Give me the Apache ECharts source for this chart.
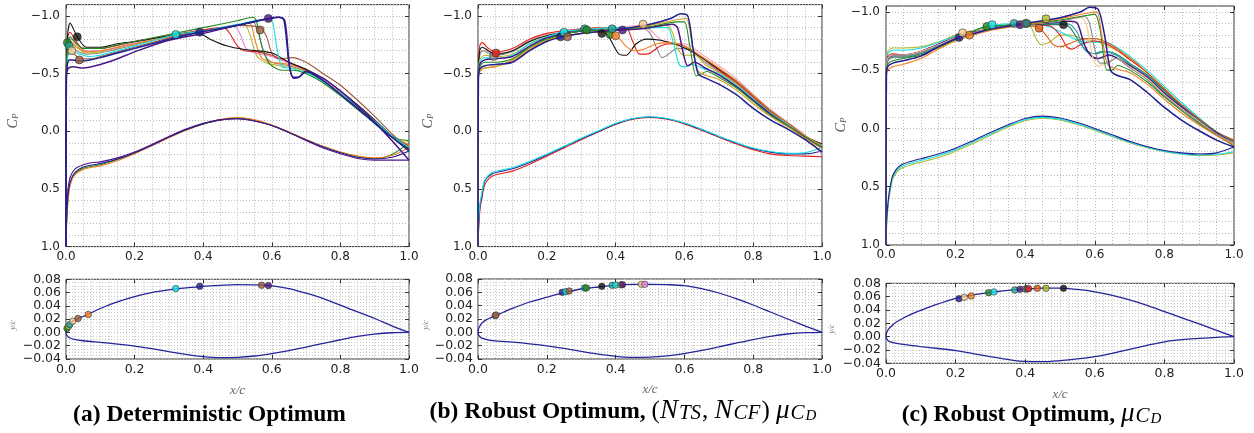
<!DOCTYPE html>
<html><head><meta charset="utf-8">
<script src="https://cdn.jsdelivr.net/npm/echarts@6.0.0/dist/echarts.min.js"></script>
<style>html,body{margin:0;padding:0;background:#fff}#c{width:1254px;height:433px}</style>
</head><body><div id="c"></div>
<script>
// ---------- tick labels ----------
const xTickVals = [0, 0.2, 0.4, 0.6, 0.8, 1.0];
const cpTickVals = [-1.0, -0.5, 0.0, 0.5, 1.0];
const yShapeTickVals = [-0.04, -0.02, 0.0, 0.02, 0.04, 0.06, 0.08];
const captions = ['(a) Deterministic Optimum', '(b) Robust Optimum, ', '(c) Robust Optimum, '];

// ---------- panel (a): Cp upper-surface curves [x/c, Cp] ----------
const aNavy = [[0,1.0],[0.001,-0.45],[0.004,-0.58],[0.01,-0.62],[0.02,-0.62],[0.04,-0.61],[0.07,-0.62],[0.1,-0.64],[0.15,-0.68],[0.2,-0.72],[0.3,-0.8],[0.39,-0.86],[0.5,-0.92],[0.58,-0.97],[0.62,-0.99],[0.635,-0.97],[0.65,-0.6],[0.662,-0.47],[0.678,-0.47],[0.698,-0.52],[0.75,-0.44],[0.8,-0.32],[0.85,-0.2],[0.9,-0.07],[0.95,0.05],[1.0,0.17]];
const aPurple = [[0,1.0],[0.001,-0.45],[0.005,-0.54],[0.02,-0.56],[0.05,-0.55],[0.1,-0.58],[0.15,-0.63],[0.2,-0.69],[0.3,-0.79],[0.4,-0.85],[0.5,-0.92],[0.59,-0.98],[0.62,-0.99],[0.638,-0.96],[0.652,-0.55],[0.665,-0.46],[0.68,-0.47],[0.7,-0.52],[0.75,-0.46],[0.8,-0.35],[0.85,-0.22],[0.9,-0.08],[0.95,0.08],[1.0,0.25]];
const aBlack = [[0,1.0],[0.001,-0.5],[0.005,-0.85],[0.012,-0.94],[0.02,-0.9],[0.033,-0.82],[0.06,-0.73],[0.1,-0.73],[0.15,-0.76],[0.2,-0.78],[0.3,-0.83],[0.38,-0.86],[0.42,-0.8],[0.47,-0.74],[0.52,-0.71],[0.6,-0.68],[0.65,-0.6],[0.7,-0.54],[0.75,-0.46],[0.8,-0.35],[0.85,-0.23],[0.9,-0.1],[0.95,0.04],[1.0,0.15]];
const aGreen = [[0,1.0],[0.001,-0.5],[0.005,-0.76],[0.012,-0.82],[0.025,-0.78],[0.05,-0.72],[0.1,-0.72],[0.15,-0.75],[0.2,-0.78],[0.3,-0.84],[0.4,-0.9],[0.5,-0.96],[0.545,-0.99],[0.555,-0.96],[0.57,-0.75],[0.59,-0.6],[0.61,-0.55],[0.63,-0.53],[0.66,-0.53],[0.7,-0.5],[0.75,-0.42],[0.8,-0.31],[0.85,-0.19],[0.9,-0.07],[0.95,0.05],[1.0,0.08]];
const aRed = [[0,1.0],[0.001,-0.5],[0.005,-0.82],[0.012,-0.86],[0.025,-0.8],[0.05,-0.72],[0.1,-0.72],[0.2,-0.78],[0.3,-0.83],[0.4,-0.88],[0.46,-0.9],[0.475,-0.86],[0.5,-0.74],[0.52,-0.7],[0.56,-0.69],[0.6,-0.66],[0.65,-0.6],[0.7,-0.53],[0.75,-0.44],[0.8,-0.33],[0.85,-0.21],[0.9,-0.09],[0.95,0.04],[1.0,0.13]];
const aCyan = [[0,1.0],[0.001,-0.45],[0.005,-0.66],[0.015,-0.7],[0.03,-0.68],[0.07,-0.65],[0.1,-0.66],[0.2,-0.74],[0.32,-0.84],[0.4,-0.87],[0.5,-0.93],[0.58,-0.97],[0.6,-0.96],[0.615,-0.72],[0.63,-0.56],[0.65,-0.55],[0.7,-0.51],[0.75,-0.43],[0.8,-0.33],[0.85,-0.21],[0.9,-0.09],[0.95,0.04],[1.0,0.14]];
const aOrange = [[0,1.0],[0.001,-0.5],[0.005,-0.74],[0.015,-0.78],[0.03,-0.74],[0.06,-0.69],[0.1,-0.7],[0.2,-0.76],[0.3,-0.82],[0.4,-0.87],[0.5,-0.92],[0.535,-0.94],[0.55,-0.8],[0.57,-0.64],[0.6,-0.6],[0.65,-0.58],[0.7,-0.53],[0.75,-0.44],[0.8,-0.33],[0.85,-0.21],[0.9,-0.09],[0.95,0.04],[1.0,0.12]];
const aBrown = [[0,1.0],[0.001,-0.48],[0.005,-0.66],[0.02,-0.68],[0.04,-0.63],[0.07,-0.63],[0.1,-0.65],[0.2,-0.73],[0.3,-0.81],[0.4,-0.87],[0.5,-0.92],[0.566,-0.9],[0.585,-0.82],[0.6,-0.68],[0.62,-0.63],[0.66,-0.64],[0.7,-0.6],[0.75,-0.5],[0.8,-0.4],[0.85,-0.27],[0.9,-0.13],[0.95,0.02],[1.0,0.16]];
const aPink = [[0,1.0],[0.001,-0.5],[0.005,-0.76],[0.015,-0.8],[0.03,-0.76],[0.06,-0.7],[0.1,-0.7],[0.2,-0.77],[0.3,-0.83],[0.4,-0.88],[0.49,-0.91],[0.505,-0.86],[0.525,-0.72],[0.55,-0.68],[0.6,-0.65],[0.65,-0.59],[0.7,-0.53],[0.75,-0.44],[0.8,-0.33],[0.85,-0.21],[0.9,-0.09],[0.95,0.04],[1.0,0.12]];
const aOlive = [[0,1.0],[0.001,-0.5],[0.005,-0.72],[0.015,-0.76],[0.03,-0.73],[0.06,-0.68],[0.1,-0.69],[0.2,-0.76],[0.3,-0.82],[0.4,-0.88],[0.5,-0.92],[0.52,-0.93],[0.535,-0.85],[0.555,-0.66],[0.58,-0.6],[0.62,-0.57],[0.66,-0.55],[0.7,-0.52],[0.75,-0.43],[0.8,-0.32],[0.85,-0.2],[0.9,-0.08],[0.95,0.05],[1.0,0.09]];
const aGray = [[0,1.0],[0.001,-0.5],[0.005,-0.7],[0.015,-0.74],[0.03,-0.7],[0.06,-0.67],[0.1,-0.68],[0.2,-0.75],[0.3,-0.82],[0.4,-0.87],[0.5,-0.92],[0.545,-0.95],[0.56,-0.86],[0.58,-0.66],[0.6,-0.6],[0.65,-0.57],[0.7,-0.52],[0.75,-0.43],[0.8,-0.32],[0.85,-0.2],[0.9,-0.08],[0.95,0.04],[1.0,0.12]];
// panel (a): Cp lower-surface curves
const aLowMain = [[0,1.0],[0.002,0.75],[0.006,0.55],[0.012,0.44],[0.025,0.36],[0.05,0.31],[0.08,0.29],[0.1,0.28],[0.15,0.24],[0.2,0.185],[0.25,0.12],[0.3,0.05],[0.35,-0.015],[0.4,-0.065],[0.45,-0.1],[0.5,-0.11],[0.55,-0.09],[0.6,-0.05],[0.65,0.01],[0.7,0.075],[0.75,0.135],[0.8,0.185],[0.85,0.225],[0.9,0.24],[0.95,0.225],[1.0,0.17]];
const aLowPurple = [[0,1.0],[0.002,0.7],[0.006,0.5],[0.012,0.4],[0.025,0.33],[0.05,0.29],[0.08,0.27],[0.1,0.265],[0.15,0.23],[0.2,0.18],[0.25,0.115],[0.3,0.045],[0.35,-0.02],[0.4,-0.07],[0.45,-0.1],[0.5,-0.11],[0.55,-0.09],[0.6,-0.05],[0.65,0.01],[0.7,0.08],[0.75,0.145],[0.8,0.195],[0.85,0.235],[0.9,0.25],[0.95,0.25],[1.0,0.25]];
const aLowOrange = [[0,1.0],[0.002,0.8],[0.006,0.6],[0.012,0.47],[0.025,0.38],[0.05,0.33],[0.08,0.31],[0.1,0.3],[0.15,0.255],[0.2,0.195],[0.25,0.125],[0.3,0.055],[0.35,-0.01],[0.4,-0.065],[0.45,-0.105],[0.5,-0.12],[0.55,-0.1],[0.6,-0.055],[0.65,0.005],[0.7,0.07],[0.75,0.13],[0.8,0.18],[0.85,0.215],[0.9,0.23],[0.95,0.21],[1.0,0.14]];
const aLowGreen = [[0,1.0],[0.002,0.78],[0.006,0.58],[0.012,0.46],[0.025,0.37],[0.05,0.32],[0.08,0.3],[0.1,0.29],[0.15,0.245],[0.2,0.19],[0.25,0.122],[0.3,0.052],[0.35,-0.012],[0.4,-0.064],[0.45,-0.1],[0.5,-0.115],[0.55,-0.095],[0.6,-0.052],[0.65,0.008],[0.7,0.072],[0.75,0.132],[0.8,0.182],[0.85,0.22],[0.9,0.235],[0.95,0.2],[1.0,0.1]];
// panel (a): transition markers
const aMarkCpX = [0.004, 0.009, 0.017, 0.033, 0.039, 0.32, 0.39, 0.566, 0.59];
const aMarkCpY = [-0.77, -0.74, -0.7, -0.82, -0.62, -0.84, -0.86, -0.88, -0.98];
const aMarkShX = [0.003, 0.007, 0.011, 0.02, 0.035, 0.065, 0.32, 0.39, 0.57, 0.59];
const aMarkShY = [0.006, 0.009, 0.012, 0.017, 0.021, 0.027, 0.066, 0.0695, 0.071, 0.0705];
// panel (a): airfoil shape [x/c, y/c]
const aShapeUpper = [[0,0.001],[0.002,0.006],[0.005,0.009],[0.01,0.013],[0.02,0.017],[0.035,0.021],[0.05,0.024],[0.075,0.03],[0.1,0.036],[0.15,0.046],[0.2,0.054],[0.25,0.06],[0.3,0.064],[0.35,0.067],[0.4,0.0695],[0.45,0.071],[0.5,0.072],[0.55,0.0715],[0.6,0.07],[0.65,0.066],[0.7,0.059],[0.75,0.051],[0.8,0.041],[0.85,0.031],[0.9,0.021],[0.95,0.01],[1.0,0.0]];
const aShapeLower = [[0,0.001],[0.001,-0.003],[0.005,-0.006],[0.01,-0.008],[0.025,-0.0105],[0.05,-0.0125],[0.1,-0.015],[0.15,-0.0175],[0.2,-0.0205],[0.25,-0.0245],[0.3,-0.029],[0.35,-0.033],[0.4,-0.0365],[0.45,-0.038],[0.5,-0.0375],[0.55,-0.0355],[0.6,-0.032],[0.65,-0.0275],[0.7,-0.022],[0.75,-0.0165],[0.8,-0.011],[0.85,-0.006],[0.9,-0.0025],[0.95,-0.0005],[1.0,0.0]];

// ---------- panel (b) ----------
const bNavy = [[0,1.0],[0.001,-0.45],[0.005,-0.54],[0.02,-0.57],[0.05,-0.58],[0.1,-0.6],[0.15,-0.7],[0.2,-0.78],[0.245,-0.82],[0.3,-0.85],[0.4,-0.88],[0.5,-0.93],[0.56,-0.98],[0.59,-1.02],[0.61,-1.0],[0.625,-0.72],[0.64,-0.5],[0.655,-0.47],[0.7,-0.41],[0.75,-0.32],[0.8,-0.2],[0.85,-0.1],[0.9,-0.02],[0.95,0.07],[1.0,0.18]];
const bGold = [[0,1.0],[0.001,-0.45],[0.005,-0.52],[0.02,-0.55],[0.05,-0.56],[0.1,-0.61],[0.15,-0.71],[0.2,-0.79],[0.3,-0.85],[0.4,-0.88],[0.5,-0.92],[0.58,-0.97],[0.605,-0.98],[0.62,-0.8],[0.635,-0.55],[0.65,-0.5],[0.7,-0.45],[0.75,-0.36],[0.8,-0.24],[0.85,-0.13],[0.9,-0.04],[0.95,0.06],[1.0,0.15]];
const bGreen = [[0,1.0],[0.001,-0.45],[0.005,-0.56],[0.02,-0.6],[0.05,-0.6],[0.1,-0.63],[0.15,-0.73],[0.2,-0.8],[0.3,-0.87],[0.4,-0.88],[0.5,-0.91],[0.58,-0.95],[0.6,-0.95],[0.615,-0.75],[0.635,-0.48],[0.65,-0.5],[0.665,-0.52],[0.7,-0.47],[0.75,-0.38],[0.8,-0.26],[0.85,-0.14],[0.9,-0.05],[0.95,0.05],[1.0,0.14]];
const bPurple = [[0,1.0],[0.001,-0.45],[0.005,-0.58],[0.02,-0.62],[0.05,-0.63],[0.1,-0.65],[0.15,-0.74],[0.2,-0.81],[0.3,-0.87],[0.42,-0.88],[0.5,-0.9],[0.565,-0.93],[0.58,-0.9],[0.595,-0.7],[0.61,-0.57],[0.63,-0.6],[0.66,-0.55],[0.7,-0.49],[0.75,-0.39],[0.8,-0.27],[0.85,-0.15],[0.9,-0.05],[0.95,0.05],[1.0,0.14]];
const bCyan = [[0,1.0],[0.001,-0.45],[0.005,-0.6],[0.02,-0.64],[0.05,-0.63],[0.1,-0.66],[0.15,-0.76],[0.2,-0.82],[0.255,-0.87],[0.3,-0.88],[0.4,-0.9],[0.5,-0.9],[0.55,-0.9],[0.565,-0.8],[0.585,-0.58],[0.6,-0.56],[0.62,-0.58],[0.66,-0.54],[0.7,-0.5],[0.75,-0.4],[0.8,-0.28],[0.85,-0.16],[0.9,-0.06],[0.95,0.05],[1.0,0.13]];
const bOlive = [[0,1.0],[0.001,-0.45],[0.005,-0.62],[0.02,-0.66],[0.05,-0.65],[0.1,-0.67],[0.15,-0.76],[0.2,-0.82],[0.3,-0.87],[0.4,-0.88],[0.5,-0.9],[0.55,-0.92],[0.565,-0.86],[0.58,-0.72],[0.6,-0.66],[0.63,-0.66],[0.66,-0.58],[0.7,-0.51],[0.75,-0.41],[0.8,-0.28],[0.85,-0.16],[0.9,-0.06],[0.95,0.04],[1.0,0.13]];
const bGray = [[0,1.0],[0.001,-0.45],[0.005,-0.66],[0.015,-0.7],[0.03,-0.68],[0.05,-0.66],[0.1,-0.69],[0.15,-0.78],[0.2,-0.83],[0.3,-0.88],[0.4,-0.89],[0.48,-0.89],[0.5,-0.85],[0.52,-0.72],[0.535,-0.64],[0.55,-0.66],[0.58,-0.72],[0.62,-0.7],[0.66,-0.6],[0.7,-0.52],[0.75,-0.42],[0.8,-0.29],[0.85,-0.17],[0.9,-0.07],[0.95,0.04],[1.0,0.13]];
const bRed = [[0,1.0],[0.001,-0.5],[0.005,-0.74],[0.012,-0.77],[0.03,-0.72],[0.052,-0.69],[0.1,-0.72],[0.15,-0.8],[0.2,-0.85],[0.3,-0.89],[0.4,-0.9],[0.43,-0.9],[0.45,-0.78],[0.47,-0.67],[0.49,-0.67],[0.53,-0.74],[0.56,-0.76],[0.6,-0.74],[0.65,-0.64],[0.7,-0.53],[0.75,-0.43],[0.8,-0.3],[0.85,-0.17],[0.9,-0.07],[0.95,0.04],[1.0,0.12]];
const bBlack = [[0,1.0],[0.001,-0.5],[0.005,-0.7],[0.012,-0.73],[0.03,-0.7],[0.05,-0.67],[0.1,-0.7],[0.15,-0.78],[0.2,-0.83],[0.3,-0.88],[0.36,-0.87],[0.38,-0.82],[0.41,-0.67],[0.43,-0.66],[0.46,-0.76],[0.49,-0.8],[0.53,-0.79],[0.58,-0.75],[0.63,-0.68],[0.7,-0.54],[0.75,-0.44],[0.8,-0.31],[0.85,-0.18],[0.9,-0.07],[0.95,0.04],[1.0,0.11]];
const bOrange = [[0,1.0],[0.001,-0.45],[0.005,-0.52],[0.02,-0.55],[0.05,-0.56],[0.1,-0.62],[0.15,-0.72],[0.2,-0.79],[0.3,-0.85],[0.38,-0.86],[0.4,-0.84],[0.43,-0.74],[0.455,-0.7],[0.48,-0.71],[0.52,-0.76],[0.56,-0.77],[0.6,-0.74],[0.65,-0.65],[0.7,-0.55],[0.75,-0.44],[0.8,-0.31],[0.85,-0.18],[0.9,-0.07],[0.95,0.04],[1.0,0.12]];
const bPink = [[0,1.0],[0.001,-0.5],[0.005,-0.68],[0.02,-0.7],[0.05,-0.68],[0.1,-0.7],[0.15,-0.79],[0.2,-0.84],[0.3,-0.88],[0.4,-0.9],[0.48,-0.92],[0.5,-0.88],[0.53,-0.8],[0.56,-0.76],[0.6,-0.76],[0.65,-0.67],[0.7,-0.57],[0.75,-0.46],[0.8,-0.32],[0.85,-0.19],[0.9,-0.08],[0.95,0.03],[1.0,0.2]];
const bLowMain = [[0,1.0],[0.002,0.8],[0.006,0.64],[0.011,0.56],[0.02,0.43],[0.04,0.37],[0.07,0.345],[0.1,0.325],[0.15,0.27],[0.2,0.205],[0.25,0.135],[0.3,0.065],[0.35,0.0],[0.4,-0.065],[0.45,-0.11],[0.5,-0.125],[0.55,-0.11],[0.6,-0.07],[0.65,-0.015],[0.7,0.045],[0.75,0.1],[0.8,0.15],[0.85,0.18],[0.9,0.195],[0.95,0.195],[1.0,0.17]];
const bLowRed = [[0,1.0],[0.002,0.84],[0.006,0.67],[0.011,0.59],[0.02,0.46],[0.04,0.39],[0.07,0.365],[0.1,0.345],[0.15,0.285],[0.2,0.215],[0.25,0.145],[0.3,0.072],[0.35,0.005],[0.4,-0.06],[0.45,-0.105],[0.5,-0.12],[0.55,-0.105],[0.6,-0.065],[0.65,-0.01],[0.7,0.05],[0.75,0.108],[0.8,0.16],[0.85,0.195],[0.9,0.21],[0.95,0.215],[1.0,0.22]];
const bLowCyan = [[0,1.0],[0.002,0.78],[0.006,0.62],[0.011,0.54],[0.02,0.42],[0.04,0.36],[0.07,0.335],[0.1,0.315],[0.15,0.262],[0.2,0.198],[0.25,0.13],[0.3,0.06],[0.35,-0.005],[0.4,-0.068],[0.45,-0.112],[0.5,-0.127],[0.55,-0.112],[0.6,-0.072],[0.65,-0.018],[0.7,0.042],[0.75,0.097],[0.8,0.145],[0.85,0.175],[0.9,0.19],[0.95,0.185],[1.0,0.14]];
const bMarkCpX = [0.045, 0.052, 0.24, 0.25, 0.26, 0.31, 0.316, 0.36, 0.384, 0.39, 0.40, 0.42, 0.48];
const bMarkCpY = [-0.65, -0.68, -0.82, -0.86, -0.82, -0.89, -0.88, -0.85, -0.84, -0.89, -0.83, -0.88, -0.93];
const bMarkShX = [0.05, 0.052, 0.245, 0.255, 0.265, 0.31, 0.315, 0.36, 0.39, 0.40, 0.415, 0.42, 0.475, 0.485];
const bMarkShY = [0.025, 0.026, 0.06, 0.061, 0.062, 0.0665, 0.0665, 0.069, 0.0705, 0.071, 0.0712, 0.0715, 0.072, 0.072];
const bShapeUpper = [[0,0.001],[0.002,0.006],[0.005,0.009],[0.01,0.013],[0.02,0.0175],[0.035,0.0215],[0.05,0.0246],[0.075,0.0305],[0.1,0.036],[0.15,0.0455],[0.2,0.0527],[0.25,0.0595],[0.3,0.065],[0.35,0.068],[0.4,0.0705],[0.45,0.0718],[0.5,0.072],[0.55,0.0715],[0.6,0.07],[0.65,0.0655],[0.7,0.059],[0.75,0.0505],[0.8,0.041],[0.85,0.0305],[0.9,0.02],[0.95,0.0098],[1.0,0.0]];
const bShapeLower = [[0,0.001],[0.001,-0.003],[0.005,-0.0062],[0.01,-0.0082],[0.025,-0.0108],[0.05,-0.0128],[0.1,-0.0148],[0.15,-0.0172],[0.2,-0.0202],[0.25,-0.0242],[0.3,-0.0287],[0.35,-0.0328],[0.4,-0.036],[0.45,-0.0375],[0.5,-0.0372],[0.55,-0.0352],[0.6,-0.0318],[0.65,-0.0272],[0.7,-0.0218],[0.75,-0.0162],[0.8,-0.0108],[0.85,-0.006],[0.9,-0.0025],[0.95,-0.0005],[1.0,0.0]];

// ---------- panel (c) ----------
const cNavy = [[0,1.0],[0.001,-0.45],[0.005,-0.53],[0.02,-0.56],[0.05,-0.58],[0.1,-0.62],[0.15,-0.7],[0.21,-0.78],[0.25,-0.81],[0.3,-0.85],[0.4,-0.9],[0.5,-0.95],[0.56,-1.0],[0.585,-1.04],[0.61,-1.02],[0.628,-0.8],[0.645,-0.5],[0.66,-0.46],[0.7,-0.42],[0.75,-0.31],[0.8,-0.18],[0.85,-0.07],[0.9,0.02],[0.95,0.1],[1.0,0.16]];
const cOrange = [[0,1.0],[0.001,-0.45],[0.005,-0.5],[0.02,-0.53],[0.05,-0.55],[0.1,-0.6],[0.15,-0.68],[0.2,-0.75],[0.3,-0.84],[0.4,-0.89],[0.5,-0.94],[0.58,-0.99],[0.605,-1.0],[0.62,-0.8],[0.635,-0.56],[0.65,-0.52],[0.7,-0.48],[0.75,-0.38],[0.8,-0.25],[0.85,-0.13],[0.9,-0.03],[0.95,0.06],[1.0,0.14]];
const cGreen = [[0,1.0],[0.001,-0.45],[0.005,-0.55],[0.02,-0.58],[0.05,-0.6],[0.1,-0.63],[0.2,-0.76],[0.29,-0.875],[0.4,-0.89],[0.5,-0.93],[0.58,-0.97],[0.6,-0.98],[0.615,-0.85],[0.635,-0.5],[0.65,-0.5],[0.665,-0.54],[0.7,-0.5],[0.75,-0.4],[0.8,-0.27],[0.85,-0.15],[0.9,-0.04],[0.95,0.06],[1.0,0.15]];
const cGray = [[0,1.0],[0.001,-0.45],[0.005,-0.58],[0.02,-0.61],[0.05,-0.62],[0.1,-0.65],[0.2,-0.77],[0.3,-0.86],[0.4,-0.9],[0.5,-0.92],[0.57,-0.96],[0.585,-0.9],[0.6,-0.68],[0.615,-0.56],[0.635,-0.56],[0.66,-0.6],[0.7,-0.52],[0.75,-0.42],[0.8,-0.28],[0.85,-0.16],[0.9,-0.05],[0.95,0.05],[1.0,0.14]];
const cTan = [[0,1.0],[0.001,-0.45],[0.005,-0.6],[0.02,-0.63],[0.05,-0.63],[0.1,-0.66],[0.2,-0.78],[0.22,-0.82],[0.3,-0.86],[0.4,-0.89],[0.5,-0.92],[0.56,-0.95],[0.575,-0.9],[0.595,-0.6],[0.61,-0.53],[0.63,-0.56],[0.66,-0.6],[0.7,-0.53],[0.75,-0.43],[0.8,-0.29],[0.85,-0.17],[0.9,-0.06],[0.95,0.05],[1.0,0.13]];
const cPurple = [[0,1.0],[0.001,-0.45],[0.005,-0.6],[0.02,-0.63],[0.05,-0.63],[0.1,-0.66],[0.2,-0.78],[0.3,-0.86],[0.385,-0.89],[0.45,-0.9],[0.53,-0.92],[0.55,-0.9],[0.57,-0.72],[0.59,-0.62],[0.61,-0.6],[0.64,-0.63],[0.66,-0.61],[0.7,-0.54],[0.75,-0.44],[0.8,-0.3],[0.85,-0.18],[0.9,-0.06],[0.95,0.04],[1.0,0.13]];
const cTeal = [[0,1.0],[0.001,-0.45],[0.005,-0.59],[0.02,-0.62],[0.05,-0.62],[0.1,-0.65],[0.2,-0.77],[0.3,-0.86],[0.4,-0.9],[0.5,-0.9],[0.53,-0.89],[0.55,-0.82],[0.57,-0.68],[0.59,-0.64],[0.62,-0.66],[0.66,-0.63],[0.7,-0.55],[0.75,-0.45],[0.8,-0.31],[0.85,-0.18],[0.9,-0.06],[0.95,0.04],[1.0,0.12]];
const cBlack = [[0,1.0],[0.001,-0.45],[0.005,-0.58],[0.02,-0.61],[0.05,-0.61],[0.1,-0.64],[0.2,-0.77],[0.3,-0.86],[0.4,-0.89],[0.51,-0.89],[0.53,-0.86],[0.56,-0.72],[0.58,-0.66],[0.6,-0.64],[0.63,-0.66],[0.66,-0.64],[0.7,-0.56],[0.75,-0.46],[0.8,-0.32],[0.85,-0.19],[0.9,-0.07],[0.95,0.03],[1.0,0.12]];
const cRed = [[0,1.0],[0.001,-0.45],[0.005,-0.62],[0.02,-0.64],[0.05,-0.63],[0.1,-0.66],[0.2,-0.78],[0.3,-0.86],[0.4,-0.89],[0.47,-0.88],[0.5,-0.8],[0.52,-0.7],[0.535,-0.68],[0.56,-0.72],[0.6,-0.75],[0.63,-0.73],[0.66,-0.68],[0.7,-0.59],[0.75,-0.48],[0.8,-0.33],[0.85,-0.2],[0.9,-0.08],[0.95,0.03],[1.0,0.11]];
const cOrange2 = [[0,1.0],[0.001,-0.45],[0.005,-0.6],[0.02,-0.62],[0.05,-0.62],[0.1,-0.65],[0.2,-0.77],[0.3,-0.86],[0.4,-0.88],[0.44,-0.86],[0.46,-0.8],[0.48,-0.72],[0.5,-0.7],[0.53,-0.73],[0.57,-0.77],[0.6,-0.77],[0.64,-0.73],[0.68,-0.65],[0.72,-0.56],[0.76,-0.45],[0.8,-0.34],[0.85,-0.2],[0.9,-0.08],[0.95,0.03],[1.0,0.1]];
const cOlive = [[0,1.0],[0.001,-0.5],[0.005,-0.66],[0.02,-0.69],[0.05,-0.69],[0.1,-0.7],[0.15,-0.74],[0.2,-0.8],[0.3,-0.87],[0.4,-0.9],[0.415,-0.88],[0.43,-0.78],[0.445,-0.72],[0.47,-0.74],[0.5,-0.8],[0.53,-0.8],[0.57,-0.76],[0.6,-0.75],[0.65,-0.69],[0.7,-0.6],[0.75,-0.48],[0.8,-0.34],[0.85,-0.2],[0.9,-0.08],[0.95,0.03],[1.0,0.11]];
const cCyan = [[0,1.0],[0.001,-0.5],[0.005,-0.64],[0.02,-0.67],[0.05,-0.67],[0.1,-0.69],[0.2,-0.79],[0.3,-0.88],[0.4,-0.9],[0.46,-0.88],[0.5,-0.83],[0.54,-0.77],[0.57,-0.74],[0.6,-0.74],[0.63,-0.74],[0.66,-0.7],[0.7,-0.62],[0.75,-0.5],[0.8,-0.36],[0.85,-0.22],[0.9,-0.09],[0.95,0.03],[1.0,0.1]];
const cLowMain = [[0,1.0],[0.002,0.78],[0.007,0.6],[0.012,0.5],[0.02,0.4],[0.04,0.32],[0.08,0.275],[0.1,0.26],[0.15,0.22],[0.2,0.17],[0.25,0.105],[0.3,0.035],[0.35,-0.03],[0.4,-0.085],[0.45,-0.105],[0.5,-0.09],[0.55,-0.05],[0.6,0.0],[0.65,0.055],[0.7,0.11],[0.75,0.155],[0.8,0.19],[0.85,0.21],[0.9,0.22],[0.95,0.21],[1.0,0.16]];
const cLowCyan = [[0,1.0],[0.002,0.8],[0.007,0.62],[0.012,0.52],[0.02,0.415],[0.04,0.335],[0.08,0.29],[0.1,0.275],[0.15,0.235],[0.2,0.182],[0.25,0.117],[0.3,0.047],[0.35,-0.02],[0.4,-0.075],[0.45,-0.095],[0.5,-0.08],[0.55,-0.04],[0.6,0.01],[0.65,0.065],[0.7,0.118],[0.75,0.162],[0.8,0.197],[0.85,0.218],[0.9,0.228],[0.95,0.222],[1.0,0.2]];
const cLowOlive = [[0,1.0],[0.002,0.82],[0.007,0.64],[0.012,0.54],[0.02,0.43],[0.04,0.35],[0.08,0.305],[0.1,0.29],[0.15,0.25],[0.2,0.195],[0.25,0.13],[0.3,0.058],[0.35,-0.01],[0.4,-0.065],[0.45,-0.087],[0.5,-0.072],[0.55,-0.033],[0.6,0.017],[0.65,0.07],[0.7,0.122],[0.75,0.166],[0.8,0.2],[0.85,0.222],[0.9,0.232],[0.95,0.228],[1.0,0.21]];
const cMarkCpX = [0.21, 0.22, 0.24, 0.29, 0.305, 0.368, 0.385, 0.40, 0.405, 0.44, 0.46, 0.51];
const cMarkCpY = [-0.78, -0.82, -0.8, -0.875, -0.89, -0.9, -0.89, -0.9, -0.9, -0.86, -0.94, -0.89];
const cMarkShX = [0.21, 0.225, 0.245, 0.295, 0.31, 0.37, 0.385, 0.40, 0.405, 0.41, 0.435, 0.46, 0.51];
const cMarkShY = [0.057, 0.059, 0.061, 0.066, 0.067, 0.07, 0.071, 0.0715, 0.0715, 0.072, 0.0725, 0.0725, 0.0725];
const cShapeUpper = [[0,0.002],[0.002,0.006],[0.005,0.0095],[0.01,0.013],[0.02,0.018],[0.03,0.022],[0.05,0.028],[0.078,0.035],[0.1,0.0395],[0.15,0.049],[0.2,0.0575],[0.25,0.0625],[0.3,0.0665],[0.35,0.0695],[0.4,0.0715],[0.45,0.0728],[0.5,0.0728],[0.55,0.0708],[0.6,0.0672],[0.65,0.0618],[0.7,0.055],[0.75,0.0468],[0.8,0.0375],[0.85,0.0282],[0.9,0.019],[0.95,0.0095],[1.0,0.0]];
const cShapeLower = [[0,0.002],[0.001,-0.002],[0.005,-0.0055],[0.01,-0.0075],[0.03,-0.01],[0.06,-0.0125],[0.1,-0.015],[0.15,-0.0178],[0.2,-0.021],[0.25,-0.0255],[0.3,-0.03],[0.35,-0.0342],[0.4,-0.0372],[0.45,-0.0375],[0.5,-0.036],[0.55,-0.0335],[0.6,-0.03],[0.65,-0.025],[0.7,-0.019],[0.75,-0.0132],[0.8,-0.0077],[0.85,-0.0045],[0.9,-0.0026],[0.95,-0.001],[1.0,0.0]];

// ---------- styles ----------
const C = {navy:'#1f1f8f', purple:'#4b1687', green:'#218a21', red:'#e3211c', cyan:'#12e0e6', orange:'#f28022', brown:'#9b5c3c', pink:'#df8ad3', olive:'#b5b830', gray:'#8a8a8a', black:'#141414', tan:'#f7c98e', teal:'#1fa7a0', gold:'#d59a20', lpink:'#f2a3b3', dteal:'#2b7b70', dorange:'#e05a10'};
const GRIDC = '#b8b8b8';
const dot = {color: GRIDC, type: [1, 2], width: 1};
const dotMinor = {color: '#c8c8c8', type: [1, 2], width: 1};
const SERIF = 'Liberation Serif';
const SANS = 'DejaVu Sans';

const panels = [
  { top: {left:66, top:4.6, width:343, height:242}, ymin:-1.1, ystep:0.1, splitColors:[GRIDC],
    bot: {left:66, top:279.3, width:343, height:79.7},
    lower: [[aLowGreen,C.green],[aLowOrange,C.orange],[aLowMain,C.navy],[aLowPurple,C.purple]],
    upper: [[aGray,C.gray],[aOlive,C.olive],[aPink,C.pink],[aOrange,C.orange],[aRed,C.red],[aBrown,C.brown],[aBlack,C.black],[aCyan,C.cyan],[aGreen,C.green],[aPurple,C.purple],[aNavy,C.navy]],
    mCp: [aMarkCpX, aMarkCpY, [C.green,C.teal,C.tan,C.black,C.brown,C.cyan,C.navy,C.brown,C.purple]],
    mSh: [aMarkShX, aMarkShY, [C.green,C.olive,C.teal,C.tan,C.brown,C.orange,C.cyan,C.navy,C.brown,C.purple]],
    shape: [aShapeUpper, aShapeLower] },
  { top: {left:478, top:4.6, width:344, height:242}, ymin:-1.1, ystep:0.1, splitColors:[GRIDC],
    bot: {left:478, top:279, width:344, height:80},
    lower: [[bLowRed,C.red],[bLowMain,C.navy],[bLowCyan,C.cyan]],
    upper: [[bPink,C.lpink],[bGray,C.gray],[bRed,C.red],[bBlack,C.black],[bOrange,C.orange],[bOlive,C.olive],[bCyan,C.cyan],[bPurple,C.purple],[bGreen,C.green],[bGold,C.gold],[bNavy,C.navy]],
    mCp: [bMarkCpX, bMarkCpY, [C.gray,C.red,C.navy,C.cyan,C.brown,C.teal,C.green,C.black,C.green,C.teal,C.orange,C.purple,C.tan]],
    mSh: [bMarkShX, bMarkShY, [C.gray,C.brown,C.navy,C.cyan,C.brown,C.teal,C.green,C.black,C.teal,C.cyan,C.olive,C.purple,C.tan,C.pink]],
    shape: [bShapeUpper, bShapeLower] },
  { top: {left:886, top:6, width:348, height:239}, ymin:-1.05, ystep:0.05, splitColors:['rgba(0,0,0,0)', GRIDC],
    bot: {left:886, top:283.3, width:348, height:80},
    lower: [[cLowOlive,C.olive],[cLowCyan,C.cyan],[cLowMain,C.navy]],
    upper: [[cOlive,C.olive],[cCyan,C.cyan],[cRed,C.red],[cOrange2,C.dorange],[cBlack,C.dteal],[cTeal,C.teal],[cPurple,C.purple],[cTan,C.tan],[cGray,C.gray],[cGreen,C.green],[cOrange,C.orange],[cNavy,C.navy]],
    mCp: [cMarkCpX, cMarkCpY, [C.navy,C.tan,C.orange,C.green,C.cyan,C.teal,C.purple,C.gray,C.dteal,C.dorange,C.olive,C.black]],
    mSh: [cMarkShX, cMarkShY, [C.navy,C.tan,C.orange,C.green,C.cyan,C.teal,C.purple,C.gray,C.dteal,C.red,C.dorange,C.olive,C.black]],
    shape: [cShapeUpper, cShapeLower] }
];

const grids = [], xAxes = [], yAxes = [], series = [], graphic = [];
const fmt = (v, d) => (v < -1e-9 ? '\u2212' : '') + Math.abs(v).toFixed(d);
const tickStyle = {inside:true, length:4, lineStyle:{color:'#333', width:1}};
const noLine = {show:false, onZero:false};

function addGrid(g) {
  grids.push(Object.assign({show:true, borderColor:'#333', borderWidth:1, backgroundColor:'#fff', containLabel:false}, g));
  return grids.length - 1;
}
function addXAxes(gi, fs, minorN, minorStyle) {
  xAxes.push({type:'value', gridIndex:gi, min:0, max:1, interval:0.2, position:'bottom',
    axisLine:noLine, axisTick:tickStyle,
    axisLabel:{customValues:xTickVals, margin:4, fontSize:fs, color:'#222', fontFamily:SANS, formatter:v=>fmt(v,1)},
    splitLine:{show:true, lineStyle:dot}, minorTick:{show:false, splitNumber:minorN}, minorSplitLine:{show:true, lineStyle:minorStyle}});
  xAxes.push({type:'value', gridIndex:gi, min:0, max:1, interval:0.2, position:'top',
    axisLine:noLine, axisTick:tickStyle, axisLabel:{show:false}, splitLine:{show:false}});
  return xAxes.length - 2;
}
function addCpYAxes(gi, p) {
  yAxes.push({type:'value', gridIndex:gi, min:p.ymin, max:1, inverse:true, interval:p.ystep, position:'left',
    axisLine:noLine, axisTick:{show:false}, axisLabel:{show:false},
    splitLine:{show:true, lineStyle:{color:p.splitColors, type:[1,2], width:1}}});
  yAxes.push({type:'value', gridIndex:gi, min:p.ymin, max:1, inverse:true, position:'left',
    axisLine:noLine, axisTick:Object.assign({customValues:cpTickVals}, tickStyle),
    axisLabel:{customValues:cpTickVals, margin:6, fontSize:12, color:'#222', fontFamily:SANS, formatter:v=>fmt(v,1)},
    splitLine:{show:false}});
  yAxes.push({type:'value', gridIndex:gi, min:p.ymin, max:1, inverse:true, position:'right',
    axisLine:noLine, axisTick:Object.assign({customValues:cpTickVals}, tickStyle), axisLabel:{show:false}, splitLine:{show:false}});
  return yAxes.length - 3;
}
function addShapeYAxes(gi) {
  yAxes.push({type:'value', gridIndex:gi, min:-0.04, max:0.08, interval:0.02, position:'left',
    axisLine:noLine, axisTick:tickStyle,
    axisLabel:{customValues:yShapeTickVals, margin:5, fontSize:12.5, color:'#222', fontFamily:SANS, formatter:v=>fmt(v,2)},
    splitLine:{show:true, lineStyle:dot}, minorTick:{show:false, splitNumber:4}, minorSplitLine:{show:true, lineStyle:dotMinor}});
  yAxes.push({type:'value', gridIndex:gi, min:-0.04, max:0.08, interval:0.02, position:'right',
    axisLine:noLine, axisTick:tickStyle, axisLabel:{show:false}, splitLine:{show:false}});
  return yAxes.length - 2;
}
function line(data, color, xi, yi, w, z) {
  series.push({type:'line', data, xAxisIndex:xi, yAxisIndex:yi, symbol:'none', smooth:0.3,
    lineStyle:{color, width:w}, silent:true, z:z||2, animation:false});
}
function marks(xs, ys, colors, xi, yi, size) {
  series.push({type:'scatter', xAxisIndex:xi, yAxisIndex:yi, symbolSize:size, silent:true, z:6, animation:false,
    itemStyle:{borderColor:'#222', borderWidth:0.7},
    data: xs.map((x, i) => ({value:[x, ys[i]], itemStyle:{color:colors[i]}}))});
}

panels.forEach((p) => {
  const gt = addGrid(p.top);
  const xt = addXAxes(gt, 12, 4, dot);
  const yt = addCpYAxes(gt, p);
  p.lower.forEach(([d, c]) => line(d, c, xt, yt, 1.1, 2));
  p.upper.forEach(([d, c]) => line(d, c, xt, yt, c === C.navy || c === C.purple ? 1.5 : 1.1, 3));
  marks(p.mCp[0], p.mCp[1], p.mCp[2], xt, yt, 8);

  const gb = addGrid(p.bot);
  const xb = addXAxes(gb, 12.5, 8, dotMinor);
  const yb = addShapeYAxes(gb);
  line(p.shape[0], '#25259a', xb, yb, 1.3, 3);
  line(p.shape[1], '#25259a', xb, yb, 1.3, 3);
  marks(p.mSh[0], p.mSh[1], p.mSh[2], xb, yb, 6.5);
});

// ---------- text: axis names and captions ----------
const cpRich = {c:{fontFamily:SERIF, fontStyle:'italic', fontSize:14, lineHeight:16, verticalAlign:'bottom', fill:'#555'},
                p:{fontFamily:SERIF, fontStyle:'italic', fontSize:9, lineHeight:9, verticalAlign:'bottom', fill:'#555'}};
[[12,121],[427,121],[840,125]].forEach(([x,y]) => graphic.push({type:'text', x, y, rotation:Math.PI/2, z:10,
  style:{text:'{c|C}{p|P}', rich:cpRich, align:'center', verticalAlign:'middle'}}));
[[13,325],[426,325],[832,329]].forEach(([x,y]) => graphic.push({type:'text', x, y, rotation:Math.PI/2, z:10,
  style:{text:'y/c', fontFamily:SERIF, fontStyle:'italic', fontSize:8, fill:'#777', align:'center', verticalAlign:'middle'}}));
[[237.5,391],[650,390],[1060,395]].forEach(([x,y]) => graphic.push({type:'text', x, y, z:10,
  style:{text:'x/c', fontFamily:SERIF, fontStyle:'italic', fontSize:13, fill:'#666', align:'center', verticalAlign:'middle'}}));

const capRich = {
  b:{fontFamily:SERIF, fontWeight:'bold', fontSize:23.5, lineHeight:28, verticalAlign:'bottom', fill:'#000'},
  r:{fontFamily:SERIF, fontSize:25, lineHeight:28, verticalAlign:'bottom', fill:'#000'},
  m:{fontFamily:SERIF, fontStyle:'italic', fontSize:27, lineHeight:28, verticalAlign:'bottom', fill:'#000', padding:[0,1,0,0]},
  s:{fontFamily:SERIF, fontStyle:'italic', fontSize:21, lineHeight:14, verticalAlign:'bottom', fill:'#000', padding:[0,1,0,0]},
  ss:{fontFamily:SERIF, fontStyle:'italic', fontSize:15, lineHeight:6, verticalAlign:'bottom', fill:'#000'}
};
graphic.push({type:'text', x:209.5, y:413, z:10, style:{text:'{b|' + captions[0] + '}', rich:capRich, align:'center', verticalAlign:'middle'}});
graphic.push({type:'text', x:623, y:410, z:10, style:{text:'{b|' + captions[1] + '}{r|(}{m|N}{s|TS}{r|, }{m|N}{s|CF}{r|) }{m|\u03bc}{s|C}{ss|D}', rich:capRich, align:'center', verticalAlign:'middle'}});
graphic.push({type:'text', x:1031.5, y:413, z:10, style:{text:'{b|' + captions[2] + '}{m|\u03bc}{s|C}{ss|D}', rich:capRich, align:'center', verticalAlign:'middle'}});

const chart = echarts.init(document.getElementById('c'), null, {renderer:'canvas'});
chart.setOption({animation:false, backgroundColor:'#fff', grid:grids, xAxis:xAxes, yAxis:yAxes, series, graphic});
</script></body></html>
